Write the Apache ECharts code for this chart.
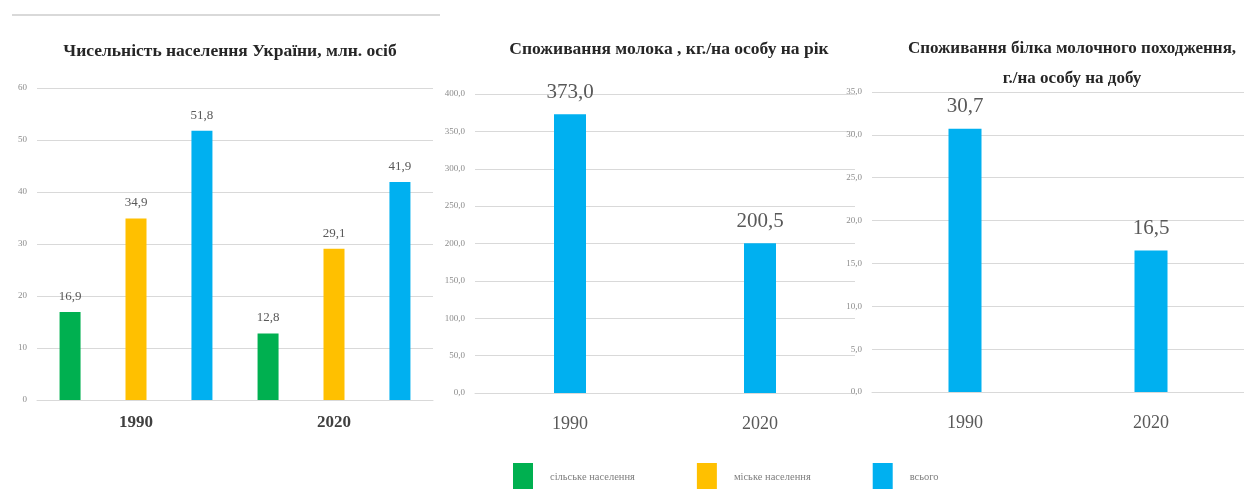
<!DOCTYPE html>
<html><head><meta charset="utf-8">
<script src="https://cdn.jsdelivr.net/npm/echarts@6/dist/echarts.min.js"></script>
<style>html,body{margin:0;padding:0;background:#fff}#c{width:1244px;height:489px}</style>
</head><body><div id="c"></div>
<script>
const categories = ['1990', '2020'];
const seriesNames = ['сільське населення', 'міське населення', 'всього'];
const ruralPop = [16.9, 12.8];
const urbanPop = [34.9, 29.1];
const totalPop = [51.8, 41.9];
const milkKg = [373.0, 200.5];
const proteinG = [30.7, 16.5];
const titleTexts = [
  'Чисельність населення України, млн. осіб',
  'Споживання молока , кг./на особу на рік',
  'Споживання білка молочного походження,\nг./на особу на добу'
];
const colors = ['#00B050', '#FFC000', '#00B0F0'];

const FONT = 'Liberation Serif';
const comma1 = v => Number(v).toFixed(1).replace('.', ',');

function labelOpt(size, dist) {
  return { show: true, position: 'top', distance: dist, fontFamily: FONT, fontSize: size, color: '#595959', formatter: p => comma1(p.value) };
}
function yAxis(idx, max, interval, fmt) {
  return {
    type: 'value', gridIndex: idx, min: 0, max: max, interval: interval,
    axisLine: { show: false }, axisTick: { show: false },
    axisLabel: { fontFamily: FONT, fontSize: 9, color: '#8c8c8c', margin: 10, formatter: fmt },
    splitLine: { lineStyle: { color: '#d9d9d9', width: 1 } }
  };
}
function xAxis(idx, bold) {
  return {
    type: 'category', gridIndex: idx, data: categories,
    axisLine: { lineStyle: { color: '#d9d9d9' } }, axisTick: { show: false },
    axisLabel: { fontFamily: FONT, fontSize: bold ? 17 : 18, fontWeight: bold ? 'bold' : 'normal',
                 color: bold ? '#404040' : '#595959', margin: bold ? 14 : 22 }
  };
}
const titleStyle = { fontFamily: FONT, fontSize: 17.5, fontWeight: 'bold', color: '#262626' };

const option = {
  animation: false,
  backgroundColor: '#fff',
  title: [
    { text: titleTexts[0], left: 225, top: 37, textAlign: 'center', textStyle: titleStyle },
    { text: titleTexts[1], left: 664, top: 35, textAlign: 'center', textStyle: titleStyle },
    { text: titleTexts[2], left: 1067, top: 29, textAlign: 'center',
      textStyle: Object.assign({}, titleStyle, { fontSize: 17, lineHeight: 30 }) }
  ],
  legend: {
    left: 508, top: 458, itemWidth: 20, itemHeight: 28, itemGap: 62, icon: 'rect',
    data: seriesNames,
    textStyle: { fontFamily: FONT, fontSize: 10.5, color: '#7f7f7f', padding: [0, 0, 0, 12] }
  },
  graphic: [
    { type: 'line', shape: { x1: 12, y1: 15, x2: 440, y2: 15 }, style: { stroke: '#d9d9d9', lineWidth: 2 } }
  ],
  grid: [
    { left: 37, top: 88, width: 396, height: 312 },
    { left: 475, top: 94, width: 380, height: 299 },
    { left: 872, top: 92, width: 386, height: 300 }
  ],
  xAxis: [xAxis(0, true), xAxis(1, false), xAxis(2, false)],
  yAxis: [
    yAxis(0, 60, 10, v => String(v)),
    yAxis(1, 400, 50, v => comma1(v)),
    yAxis(2, 35, 5, v => comma1(v))
  ],
  series: [
    { name: seriesNames[0], type: 'bar', xAxisIndex: 0, yAxisIndex: 0, data: ruralPop,
      itemStyle: { color: colors[0] }, barWidth: 21, barGap: '214%', label: labelOpt(13, 9) },
    { name: seriesNames[1], type: 'bar', xAxisIndex: 0, yAxisIndex: 0, data: urbanPop,
      itemStyle: { color: colors[1] }, barWidth: 21, barGap: '214%', label: labelOpt(13, 9) },
    { name: seriesNames[2], type: 'bar', xAxisIndex: 0, yAxisIndex: 0, data: totalPop,
      itemStyle: { color: colors[2] }, barWidth: 21, barGap: '214%', label: labelOpt(13, 9) },
    { name: seriesNames[2], type: 'bar', xAxisIndex: 1, yAxisIndex: 1, data: milkKg,
      itemStyle: { color: colors[2] }, barWidth: 32, label: labelOpt(21, 11) },
    { name: seriesNames[2], type: 'bar', xAxisIndex: 2, yAxisIndex: 2, data: proteinG,
      itemStyle: { color: colors[2] }, barWidth: 33, label: labelOpt(21, 12) }
  ]
};
const chart = echarts.init(document.getElementById('c'), null, { renderer: 'canvas' });
chart.setOption(option);
</script></body></html>
